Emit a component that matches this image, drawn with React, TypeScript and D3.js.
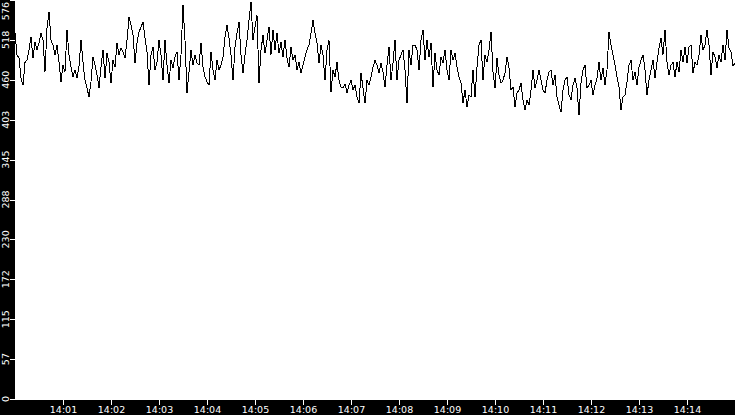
import { useEffect, useRef } from 'react';
import * as d3 from 'd3';

// one sample every 2.5 s, 40 samples per 100 s block, starting 14:00:00
const startTime = new Date(2024, 0, 1, 14, 0, 0);
const endTime = new Date(2024, 0, 1, 14, 15, 0);
const stepSeconds = 2.5;

const block1 = [528, 497, 492, 463, 453, 486, 489, 504, 523, 492, 515, 504, 514, 528, 518, 472, 536, 559, 518, 511, 497, 511, 486, 458, 482, 472, 533, 497, 479, 465, 475, 463, 481, 518, 486, 460, 449, 436, 458, 494];
const block2 = [482, 468, 449, 479, 504, 463, 499, 486, 456, 489, 479, 514, 497, 507, 501, 492, 518, 551, 540, 525, 485, 514, 530, 537, 544, 521, 501, 453, 497, 508, 475, 486, 518, 497, 460, 518, 482, 456, 489, 478];
const block3 = [494, 501, 460, 497, 569, 518, 442, 472, 504, 482, 497, 485, 482, 514, 479, 465, 458, 453, 501, 475, 460, 489, 475, 482, 494, 523, 540, 521, 497, 460, 508, 528, 544, 497, 471, 497, 518, 547, 573, 518];
const block4 = [537, 554, 456, 504, 525, 499, 518, 537, 497, 533, 504, 528, 499, 515, 494, 518, 492, 479, 508, 489, 497, 475, 486, 471, 482, 494, 504, 511, 528, 547, 528, 514, 485, 511, 497, 460, 504, 518, 443, 475];
const block5 = [465, 486, 460, 450, 449, 455, 442, 453, 460, 446, 453, 436, 427, 471, 449, 427, 460, 453, 465, 479, 489, 482, 471, 485, 472, 450, 482, 508, 460, 485, 518, 460, 489, 497, 504, 475, 427, 504, 482, 511];
const block6 = [511, 504, 475, 518, 533, 489, 518, 494, 514, 450, 499, 475, 468, 494, 485, 504, 475, 460, 504, 489, 499, 479, 465, 456, 427, 446, 422, 439, 436, 475, 436, 479, 511, 518, 460, 497, 486, 504, 530, 472];
const block7 = [449, 492, 468, 456, 460, 471, 494, 478, 446, 450, 422, 442, 446, 456, 432, 417, 432, 424, 446, 475, 449, 460, 475, 460, 446, 442, 460, 472, 475, 453, 468, 436, 424, 414, 446, 460, 465, 439, 432, 453];
const block8 = [463, 449, 410, 456, 475, 482, 449, 453, 460, 439, 453, 463, 486, 460, 478, 453, 475, 530, 511, 497, 482, 465, 450, 417, 436, 439, 458, 482, 489, 460, 472, 453, 479, 489, 497, 475, 439, 460, 475, 489];
const block9 = [463, 486, 507, 521, 497, 533, 486, 468, 482, 486, 465, 486, 472, 504, 486, 508, 485, 508, 511, 471, 486, 482, 497, 525, 504, 511, 533, 511, 468, 501, 494, 478, 497, 486, 511, 489, 533, 507, 501, 481, 485];

const yMax = 576;
const yTickCount = 10;
const xTickMinutes = [1, 2, 3, 4, 5, 6, 7, 8, 9, 10, 11, 12, 13, 14];

type Sample = { t: Date; v: number };

const App = () => {
    const svgRef = useRef<SVGSVGElement | null>(null);

    useEffect(() => {
        if (!svgRef.current) return;
        const svg = d3.select(svgRef.current);
        svg.selectAll('*').remove();

        const width = 735;
        const height = 415;
        const margin = { top: 0, right: 0, bottom: 15, left: 15 };
        const plotBottom = height - margin.bottom;
        const font = 'DejaVu Sans, Verdana, sans-serif';

        svg.append('rect').attr('width', width).attr('height', height).attr('fill', '#000');
        svg.append('rect')
            .attr('x', margin.left)
            .attr('y', margin.top)
            .attr('width', width - margin.left - margin.right)
            .attr('height', plotBottom - margin.top)
            .attr('fill', '#fff');

        const x = d3.scaleTime().domain([startTime, endTime]).range([margin.left, width - margin.right]);
        const y = d3.scaleLinear().domain([0, yMax]).range([plotBottom - 1, margin.top]);

        const values = [...block1, ...block2, ...block3, ...block4, ...block5, ...block6, ...block7, ...block8, ...block9];
        const samples: Sample[] = values.map((v, i) => ({
            t: new Date(startTime.getTime() + i * stepSeconds * 1000),
            v,
        }));

        // the line
        svg.append('path')
            .datum(samples)
            .attr('fill', 'none')
            .attr('stroke', '#000')
            .attr('stroke-width', 1)
            .attr('shape-rendering', 'crispEdges')
            .attr('d', d3.line<Sample>().x(d => x(d.t)).y(d => y(d.v)));

        // x axis
        const xTicks = xTickMinutes.map(m => new Date(2024, 0, 1, 14, m, 0));
        const gx = svg.append('g')
            .attr('transform', `translate(0,${plotBottom})`)
            .call(d3.axisBottom(x)
                .tickValues(xTicks)
                .tickFormat(d => d3.timeFormat('%H:%M')(d as Date))
                .tickSize(5)
                .tickPadding(1));
        gx.select('.domain').remove();
        gx.selectAll('line').attr('stroke', '#fff').attr('shape-rendering', 'crispEdges');
        gx.selectAll('text')
            .attr('fill', '#fff')
            .attr('font-family', font)
            .attr('font-size', 9.5);

        // y axis, labels rotated
        const yTicks = d3.range(0, yTickCount + 1).map(i => (i * yMax) / yTickCount);
        const gy = svg.append('g')
            .attr('transform', `translate(${margin.left},0)`)
            .call(d3.axisLeft(y).tickValues(yTicks).tickSize(5).tickFormat(() => ''));
        gy.select('.domain').remove();
        gy.selectAll('line').attr('stroke', '#fff').attr('shape-rendering', 'crispEdges');

        const labels = svg.append('g')
            .selectAll('text')
            .data(yTicks)
            .join('text')
            .attr('fill', '#fff')
            .attr('font-family', font)
            .attr('font-size', 9.5)
            .attr('text-anchor', 'middle')
            .text(d => String(Math.floor(d)));

        labels.each(function (d) {
            const el = this as SVGTextElement;
            const half = el.getComputedTextLength() / 2;
            const cy = Math.max(y(d), half + 2);
            d3.select(el).attr('transform', `translate(9,${cy}) rotate(-90)`);
        });
    }, []);

    return (
        <div style={{ position: 'absolute', left: 0, top: 0 }}>
            <svg ref={svgRef} width={735} height={415} style={{ display: 'block' }}></svg>
        </div>
    );
};

export default App;
